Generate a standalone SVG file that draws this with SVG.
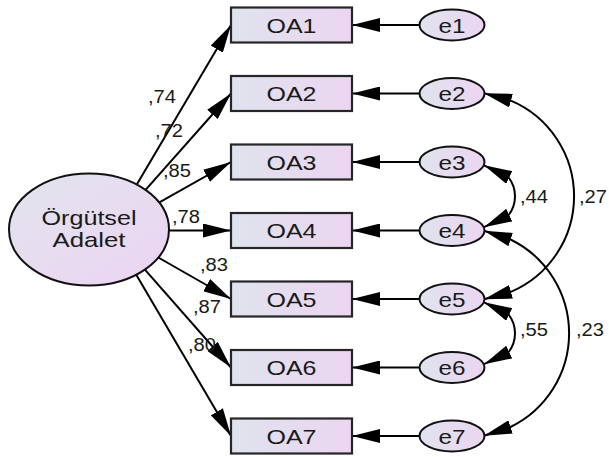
<svg xmlns="http://www.w3.org/2000/svg" width="609" height="457" viewBox="0 0 609 457">
  <defs>
    <linearGradient id="fillBox" x1="0" y1="0" x2="1" y2="0">
      <stop offset="0" stop-color="#dfe3ee"/>
      <stop offset="1" stop-color="#ecd5f1"/>
    </linearGradient>
    <linearGradient id="fillLatent" x1="0" y1="0" x2="1" y2="1">
      <stop offset="0" stop-color="#e2e5ee"/>
      <stop offset="1" stop-color="#ecd3f2"/>
    </linearGradient>
    <marker id="head" viewBox="0 0 28 14" refX="28" refY="7" markerWidth="28" markerHeight="14" markerUnits="userSpaceOnUse" orient="auto-start-reverse">
      <path d="M0,0 L28,7 L0,14 z" fill="#000"/>
    </marker>
    <style>
      .box { fill: url(#fillBox); stroke: #262626; stroke-width: 2.2; }
      .err { fill: url(#fillBox); stroke: #111; stroke-width: 2; }
      .lat { fill: url(#fillLatent); stroke: #111; stroke-width: 2; }
      .lbl { font-family: "Liberation Sans", Arial, sans-serif; font-size: 21px; fill: #1a1a1a; text-anchor: middle; }
      .coef { font-family: "Liberation Sans", Arial, sans-serif; font-size: 18px; fill: #1a1a1a; }
      .path { fill: none; stroke: #000; stroke-width: 2; marker-end: url(#head); }
      .cov { fill: none; stroke: #000; stroke-width: 2; marker-start: url(#head); marker-end: url(#head); }
    </style>
  </defs>

  <rect width="609" height="457" fill="#fff"/>

  <!-- regression paths and covariances -->
  <g id="connectors">
    <path class="path" d="M136.2,185.6 L231,25"/>
    <path class="path" d="M144.9,190.6 L231,93.5"/>
    <path class="path" d="M158.5,202.8 L231,162"/>
    <path class="path" d="M169,230.5 L231,230.5"/>
    <path class="path" d="M158.3,257.5 L231,299"/>
    <path class="path" d="M144.7,269.4 L231,367.5"/>
    <path class="path" d="M136.1,274.4 L231,436"/>

    <path class="path" d="M419.5,25 L352,25"/>
    <path class="path" d="M419.5,93.5 L352,93.5"/>
    <path class="path" d="M419.5,162 L352,162"/>
    <path class="path" d="M419.5,230.5 L352,230.5"/>
    <path class="path" d="M419.5,299 L352,299"/>
    <path class="path" d="M419.5,367.5 L352,367.5"/>
    <path class="path" d="M419.5,436 L352,436"/>

    <path class="cov" d="M484,165.3 L508.3,177 A31,31 0 0 1 508.3,215.5 L484,227.2"/>
    <path class="cov" d="M484,302.3 L508.3,314 A31,31 0 0 1 508.3,352.5 L484,364.2"/>
    <path class="cov" d="M484,93.2 L510.9,100.6 A104,104 0 0 1 510.9,291.9 L484,299.3"/>
    <path class="cov" d="M484,230.8 L510.5,239.5 A104.3,104.3 0 0 1 510.5,427 L484,435.8"/>
  </g>

  <!-- coefficient labels -->
  <g id="coefficients">
    <text class="coef" x="148" y="103" textLength="28" lengthAdjust="spacingAndGlyphs">,74</text>
    <text class="coef" x="155" y="137" textLength="28" lengthAdjust="spacingAndGlyphs">,72</text>
    <text class="coef" x="163" y="177" textLength="28" lengthAdjust="spacingAndGlyphs">,85</text>
    <text class="coef" x="172" y="223" textLength="28" lengthAdjust="spacingAndGlyphs">,78</text>
    <text class="coef" x="200" y="271" textLength="28" lengthAdjust="spacingAndGlyphs">,83</text>
    <text class="coef" x="193" y="313" textLength="28" lengthAdjust="spacingAndGlyphs">,87</text>
    <text class="coef" x="188" y="351" textLength="28" lengthAdjust="spacingAndGlyphs">,80</text>
    <text class="coef" x="520" y="203" textLength="28" lengthAdjust="spacingAndGlyphs">,44</text>
    <text class="coef" x="579" y="203" textLength="28" lengthAdjust="spacingAndGlyphs">,27</text>
    <text class="coef" x="520" y="336" textLength="28" lengthAdjust="spacingAndGlyphs">,55</text>
    <text class="coef" x="576" y="336" textLength="28" lengthAdjust="spacingAndGlyphs">,23</text>
  </g>

  <!-- latent factor -->
  <g id="OrgutselAdalet">
    <ellipse class="lat" cx="89" cy="229.5" rx="80" ry="56"/>
    <text class="lbl" x="89" y="225" textLength="95" lengthAdjust="spacingAndGlyphs">Örgütsel</text>
    <text class="lbl" x="89" y="247" textLength="73" lengthAdjust="spacingAndGlyphs">Adalet</text>
  </g>

  <!-- observed indicators -->
  <g id="OA1"><rect class="box" x="231" y="7.5" width="121" height="35"/><text class="lbl" x="291.5" y="32.5" textLength="50" lengthAdjust="spacingAndGlyphs">OA1</text></g>
  <g id="OA2"><rect class="box" x="231" y="76" width="121" height="35"/><text class="lbl" x="291.5" y="101" textLength="50" lengthAdjust="spacingAndGlyphs">OA2</text></g>
  <g id="OA3"><rect class="box" x="231" y="144.5" width="121" height="35"/><text class="lbl" x="291.5" y="169.5" textLength="50" lengthAdjust="spacingAndGlyphs">OA3</text></g>
  <g id="OA4"><rect class="box" x="231" y="213" width="121" height="35"/><text class="lbl" x="291.5" y="238" textLength="50" lengthAdjust="spacingAndGlyphs">OA4</text></g>
  <g id="OA5"><rect class="box" x="231" y="281.5" width="121" height="35"/><text class="lbl" x="291.5" y="306.5" textLength="50" lengthAdjust="spacingAndGlyphs">OA5</text></g>
  <g id="OA6"><rect class="box" x="231" y="350" width="121" height="35"/><text class="lbl" x="291.5" y="375" textLength="50" lengthAdjust="spacingAndGlyphs">OA6</text></g>
  <g id="OA7"><rect class="box" x="231" y="418.5" width="121" height="35"/><text class="lbl" x="291.5" y="443.5" textLength="50" lengthAdjust="spacingAndGlyphs">OA7</text></g>

  <!-- error terms -->
  <g id="e1"><ellipse class="err" cx="452" cy="25" rx="32.5" ry="15.5"/><text class="lbl" x="452" y="32.5" textLength="27" lengthAdjust="spacingAndGlyphs">e1</text></g>
  <g id="e2"><ellipse class="err" cx="452" cy="93.5" rx="32.5" ry="15.5"/><text class="lbl" x="452" y="101" textLength="27" lengthAdjust="spacingAndGlyphs">e2</text></g>
  <g id="e3"><ellipse class="err" cx="452" cy="162" rx="32.5" ry="15.5"/><text class="lbl" x="452" y="169.5" textLength="27" lengthAdjust="spacingAndGlyphs">e3</text></g>
  <g id="e4"><ellipse class="err" cx="452" cy="230.5" rx="32.5" ry="15.5"/><text class="lbl" x="452" y="238" textLength="27" lengthAdjust="spacingAndGlyphs">e4</text></g>
  <g id="e5"><ellipse class="err" cx="452" cy="299" rx="32.5" ry="15.5"/><text class="lbl" x="452" y="306.5" textLength="27" lengthAdjust="spacingAndGlyphs">e5</text></g>
  <g id="e6"><ellipse class="err" cx="452" cy="367.5" rx="32.5" ry="15.5"/><text class="lbl" x="452" y="375" textLength="27" lengthAdjust="spacingAndGlyphs">e6</text></g>
  <g id="e7"><ellipse class="err" cx="452" cy="436" rx="32.5" ry="15.5"/><text class="lbl" x="452" y="443.5" textLength="27" lengthAdjust="spacingAndGlyphs">e7</text></g>
</svg>
